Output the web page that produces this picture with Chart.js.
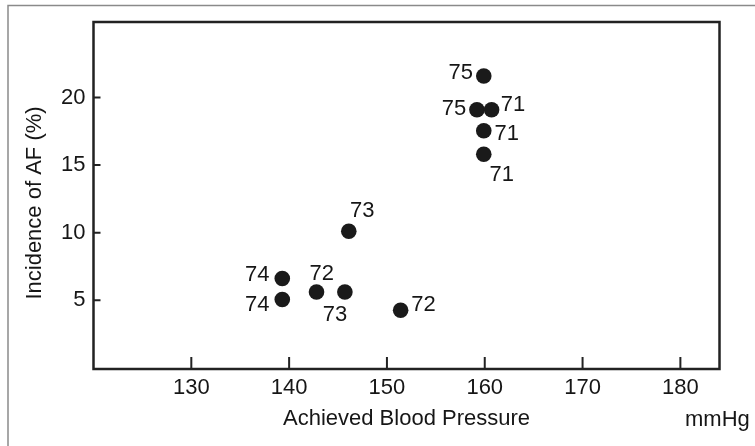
<!DOCTYPE html>
<html>
<head>
<meta charset="utf-8">
<script src="https://cdn.jsdelivr.net/npm/chart.js@4.4.1/dist/chart.umd.min.js"></script>
<style>
    html, body { margin: 0; padding: 0; background: #fff; }
    #wrap { width: 755px; height: 446px; position: relative; }
</style>
</head>
<body>
<div id="wrap"><canvas id="graph"></canvas></div>
<script>
// data
const bloodPressure = [159.9, 159.2, 160.7, 159.9, 159.9, 146.1, 139.3, 139.3, 142.8, 145.7, 151.4]
const incidence = [21.6, 19.1, 19.1, 17.55, 15.8, 10.1, 6.6, 5.05, 5.6, 5.6, 4.25]
const pointLabels = ["75", "75", "71", "71", "71", "73", "74", "74", "72", "73", "72"]
const xTicks = [130, 140, 150, 160, 170, 180]
const yTicks = [5, 10, 15, 20]

// where each label sits relative to its dot (px)
const labelOffsets = [
    [-23, -5], [-23, -2.5], [21.5, -6.3], [23, 1.2], [18, 19],
    [13.5, -22], [-25, -5.8], [-25, 3.5], [5.3, -19.5], [-10, 21.5], [22.8, -7.2],
]

const fontFamily = "'Liberation Sans', Arial, Helvetica, sans-serif"
const textColor = "#161616"

const decorations = {
    id: "decorations",
    beforeDraw(chart) {
        const ctx = chart.ctx
        ctx.save()
        ctx.strokeStyle = "#8a8a8a"
        ctx.lineWidth = 1.5
        ctx.beginPath()
        ctx.moveTo(8, 446)
        ctx.lineTo(8, 5.5)
        ctx.lineTo(755, 5.5)
        ctx.stroke()
        ctx.restore()
    },
    afterDatasetsDraw(chart) {
        const ctx = chart.ctx
        const area = chart.chartArea
        const x = chart.scales.x
        const y = chart.scales.y
        ctx.save()

        // box round the plot
        ctx.strokeStyle = "#222222"
        ctx.lineWidth = 2.5
        ctx.strokeRect(area.left, area.top, area.right - area.left, area.bottom - area.top)

        // inward tick marks
        ctx.lineWidth = 2
        ctx.beginPath()
        for (let v of xTicks) {
            const px = x.getPixelForValue(v)
            ctx.moveTo(px, area.bottom)
            ctx.lineTo(px, area.bottom - 12)
        }
        for (let v of yTicks) {
            const py = y.getPixelForValue(v)
            ctx.moveTo(area.left, py)
            ctx.lineTo(area.left + 7, py)
        }
        ctx.stroke()

        // point labels
        ctx.fillStyle = textColor
        ctx.font = "22px " + fontFamily
        ctx.textAlign = "center"
        ctx.textBaseline = "alphabetic"
        const meta = chart.getDatasetMeta(0)
        meta.data.forEach((pt, i) => {
            const off = labelOffsets[i]
            ctx.fillText(pointLabels[i], pt.x + off[0], pt.y + off[1] + 7.9)
        })

        // unit, on the same line as the x title
        ctx.textAlign = "left"
        ctx.fillText("mmHg", 685, 426)

        // y axis title, sits a little below the plot's middle
        ctx.translate(35, 203)
        ctx.rotate(-Math.PI / 2)
        ctx.textAlign = "center"
        ctx.textBaseline = "middle"
        ctx.fillText("Incidence of AF (%)", 0, 0)
        ctx.restore()
    },
}

const config = {
    type: "scatter",
    data: {
        datasets: [
            {
                data: bloodPressure.map((v, i) => ({ x: v, y: incidence[i] })),
                backgroundColor: "#1a1a1a",
                borderWidth: 0,
                pointRadius: 7.8,
                pointHoverRadius: 7.8,
            },
        ],
    },
    options: {
        responsive: true,
        maintainAspectRatio: false,
        animation: false,
        events: [],
        layout: {
            padding: { left: 0, top: 22, right: 35.5, bottom: 0 },
        },
        plugins: {
            legend: { display: false },
            tooltip: { enabled: false },
        },
        scales: {
            x: {
                type: "linear",
                min: 120,
                max: 184,
                afterBuildTicks: (scale) => {
                    scale.ticks = xTicks.map((v) => ({ value: v }))
                },
                afterFit: (scale) => {
                    scale.height = 77
                },
                grid: { display: false, drawTicks: false },
                border: { display: false },
                ticks: {
                    color: textColor,
                    padding: 6,
                    font: { family: fontFamily, size: 22 },
                },
                title: {
                    display: true,
                    text: "Achieved Blood Pressure",
                    color: textColor,
                    font: { family: fontFamily, size: 22 },
                    padding: { top: 0, bottom: 14 },
                },
            },
            y: {
                type: "linear",
                min: -0.1,
                max: 25.6,
                afterBuildTicks: (scale) => {
                    scale.ticks = yTicks.map((v) => ({ value: v }))
                },
                afterFit: (scale) => {
                    scale.width = 93.5
                },
                grid: { display: false, drawTicks: false },
                border: { display: false },
                ticks: {
                    color: textColor,
                    padding: 8,
                    font: { family: fontFamily, size: 22 },
                },
            },
        },
    },
    plugins: [decorations],
}

const chart = new Chart(document.getElementById("graph"), config)
</script>
</body>
</html>
